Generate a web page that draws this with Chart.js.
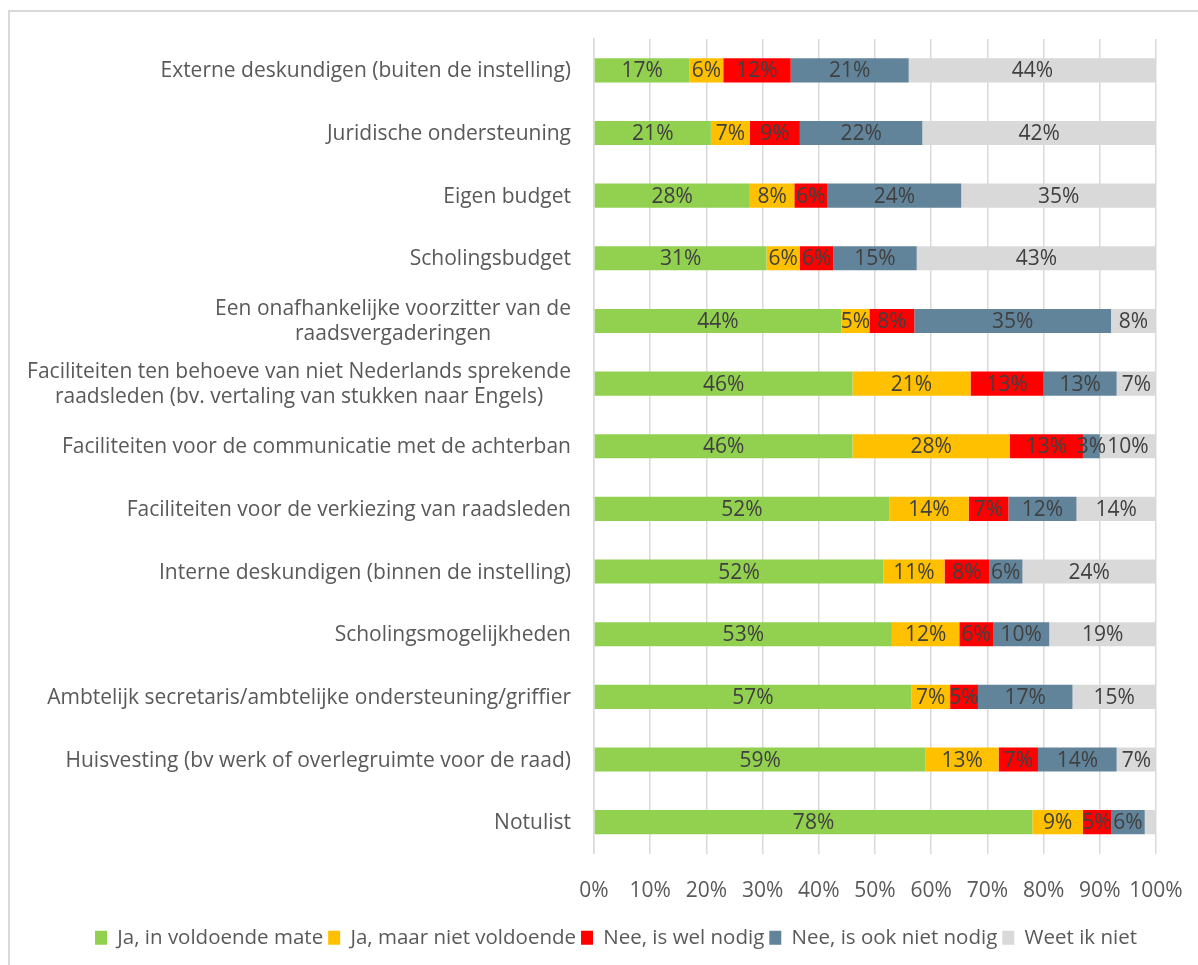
<!DOCTYPE html>
<html>
<head>
<meta charset="utf-8">
<script src="https://cdn.jsdelivr.net/npm/chart.js@4.4.0/dist/chart.umd.min.js"></script>
<style>
html, body { margin: 0; padding: 0; background: #fff; overflow: hidden; }
#frame { position: absolute; left: 8px; top: 10px; width: 1210px; height: 980px;
         border-left: 2px solid #d9d9d9; border-top: 2px solid #d9d9d9; }
#wrap { position: absolute; left: 10px; top: 12px; width: 1188px; height: 953px; }
</style>
</head>
<body>
<div id="frame"></div>
<div id="wrap"><canvas id="chartCanvas"></canvas></div>
<script>
const categories = [
    ["Externe deskundigen (buiten de instelling)"],
    ["Juridische ondersteuning"],
    ["Eigen budget"],
    ["Scholingsbudget"],
    ["Een onafhankelijke voorzitter van de", "raadsvergaderingen"],
    ["Faciliteiten ten behoeve van niet Nederlands sprekende", "raadsleden (bv. vertaling van stukken naar Engels)"],
    ["Faciliteiten voor de communicatie met de achterban"],
    ["Faciliteiten voor de verkiezing van raadsleden"],
    ["Interne deskundigen (binnen de instelling)"],
    ["Scholingsmogelijkheden"],
    ["Ambtelijk secretaris/ambtelijke ondersteuning/griffier"],
    ["Huisvesting (bv werk of overlegruimte voor de raad)"],
    ["Notulist"]
];
const seriesNames = ["Ja, in voldoende mate", "Ja, maar niet voldoende", "Nee, is wel nodig", "Nee, is ook niet nodig", "Weet ik niet"];
const jaVoldoende     = [17, 21, 28, 31, 44, 46, 46, 52, 52, 53, 57, 59, 78];
const jaNietVoldoende = [ 6,  7,  8,  6,  5, 21, 28, 14, 11, 12,  7, 13,  9];
const neeWelNodig     = [12,  9,  6,  6,  8, 13, 13,  7,  8,  6,  5,  7,  5];
const neeNietNodig    = [21, 22, 24, 15, 35, 13,  3, 12,  6, 10, 17, 14,  6];
const weetNiet        = [44, 42, 35, 43,  8,  7, 10, 14, 24, 19, 15,  7,  2];
const xTicks = [0, 10, 20, 30, 40, 50, 60, 70, 80, 90, 100];

const colors = ["#92D050", "#FFC000", "#FF0000", "#62849A", "#D9D9D9"];
const FONT = "'Open Sans', Lato, sans-serif";
const FSIZE = 21;

const raw = [jaVoldoende, jaNietVoldoende, neeWelNodig, neeNietNodig, weetNiet];
// 100% gestapeld: elke rij schalen naar totaal 100
const totals = categories.map((c, i) => raw.reduce((s, arr) => s + arr[i], 0));
const datasets = raw.map((arr, k) => ({
    label: seriesNames[k],
    data: arr.map((v, i) => v / totals[i] * 100),
    rawValues: arr,
    backgroundColor: colors[k],
    borderWidth: 0,
    barPercentage: 0.77,
    categoryPercentage: 0.5
}));

// labels midden in de balken
const barLabels = {
    id: 'barLabels',
    afterDatasetsDraw(chart) {
        const ctx = chart.ctx;
        ctx.save();
        ctx.font = FSIZE + "px " + FONT;
        ctx.fillStyle = "#404040";
        ctx.textAlign = "center";
        ctx.textBaseline = "middle";
        chart.data.datasets.forEach((ds, k) => {
            const meta = chart.getDatasetMeta(k);
            meta.data.forEach((bar, i) => {
                const v = ds.rawValues[i];
                if (v < 3) return;
                ctx.fillText(v + "%", (bar.x + bar.base) / 2, bar.y + 1);
            });
        });
        ctx.restore();
    }
};

// categorie labels: rechts uitgelijnd, regels onderling gecentreerd
const catLabels = {
    id: 'catLabels',
    afterDraw(chart) {
        const ctx = chart.ctx;
        const yScale = chart.scales.y;
        ctx.save();
        ctx.font = FSIZE + "px " + FONT;
        ctx.fillStyle = "#595959";
        ctx.textAlign = "center";
        ctx.textBaseline = "middle";
        const rightEdge = chart.chartArea.left - 23;
        categories.forEach((lines, i) => {
            const w = Math.max(...lines.map(l => ctx.measureText(l).width));
            const cx = rightEdge - w / 2;
            const yc = yScale.getPixelForTick(i);
            const lh = 25;
            lines.forEach((l, j) => {
                ctx.fillText(l, cx, yc + 1 + (j - (lines.length - 1) / 2) * lh);
            });
        });
        ctx.restore();
    }
};

const ctx = document.getElementById("chartCanvas").getContext("2d");
new Chart(ctx, {
    type: 'bar',
    data: { labels: categories.map(c => c.join(" ")), datasets: datasets },
    options: {
        indexAxis: 'y',
        responsive: true,
        maintainAspectRatio: false,
        animation: false,
        layout: { padding: { top: 27, right: 42, bottom: 7, left: 66 } },
        scales: {
            x: {
                stacked: true,
                min: 0,
                max: 100,
                afterBuildTicks: axis => { axis.ticks = xTicks.map(v => ({ value: v })); },
                ticks: {
                    callback: v => v + "%",
                    color: "#595959",
                    font: { family: FONT, size: FSIZE },
                    padding: 25,
                    maxRotation: 0,
                    autoSkip: false
                },
                grid: { color: "#d9d9d9", lineWidth: 1.5, drawTicks: false },
                border: { display: false },
                afterFit: axis => {
                    axis.height = 69;
                    axis.paddingLeft = 0;
                    axis.paddingRight = 0;
                }
            },
            y: {
                stacked: true,
                ticks: { display: false },
                grid: { display: false, drawTicks: false },
                border: { color: "#d9d9d9", width: 1.5 },
                afterFit: axis => {
                    axis.width = 518;
                    axis.paddingTop = 0;
                    axis.paddingBottom = 0;
                }
            }
        },
        plugins: {
            legend: {
                position: 'bottom',
                labels: {
                    boxWidth: 12,
                    boxHeight: 14,
                    color: "#595959",
                    font: { family: FONT, size: 20.5 },
                    padding: 5
                }
            },
            tooltip: { enabled: false }
        }
    },
    plugins: [barLabels, catLabels]
});
</script>
</body>
</html>
